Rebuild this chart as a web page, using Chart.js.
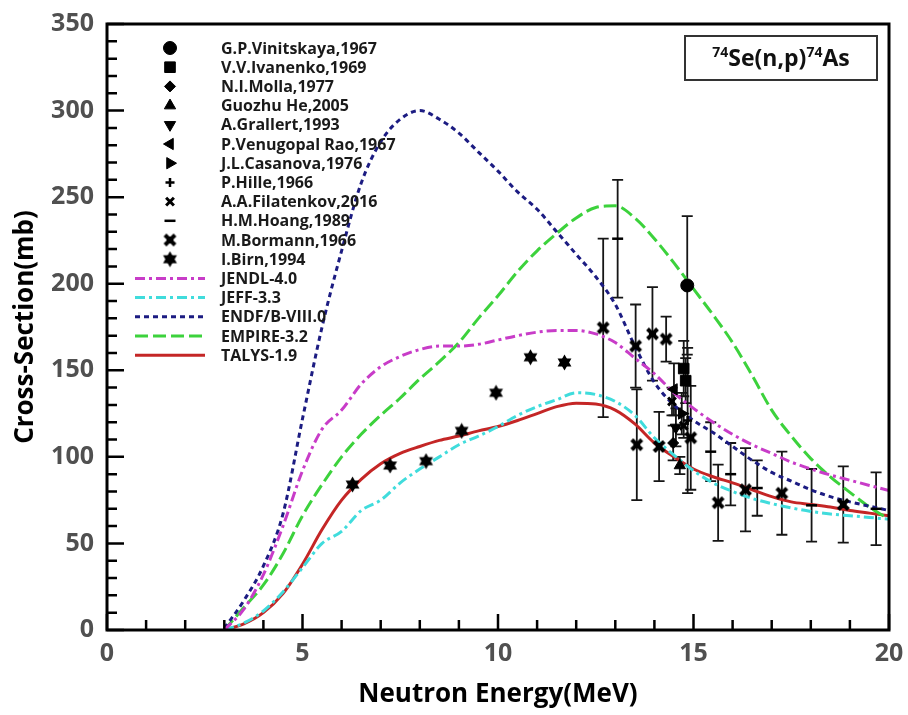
<!DOCTYPE html>
<html>
<head>
<meta charset="utf-8">
<title>74Se(n,p)74As cross section</title>
<script src="https://cdn.jsdelivr.net/npm/chart.js@4.4.1/dist/chart.umd.min.js"></script>
<style>
    html, body { margin: 0; padding: 0; background: #fff; }
    #wrap { width: 908px; height: 715px; position: relative; }
</style>
</head>
<body>
<div id="wrap"><canvas id="xs-chart"></canvas></div>
<script>
// ---- evaluated excitation functions on a common energy grid (MeV) ----
const energyGrid = [3, 3.5, 4, 4.5, 5, 5.5, 6, 6.5, 7, 7.5, 8, 8.5, 9, 9.5, 10, 10.5, 11, 11.5,
    12, 12.5, 13, 13.5, 14, 14.5, 15, 15.5, 16, 16.5, 17, 17.5, 18, 18.5, 19, 19.5, 20];

const jendlXs = [0, 12, 32, 60, 92, 116, 127, 142, 152, 158, 162, 164, 164, 165, 167.5, 170, 172, 173,
    173, 171, 166, 157, 148, 137, 128, 120, 113, 107, 102, 97, 93, 89.5, 86.5, 83.5, 80.5];
const jeffXs = [0, 4, 11, 22, 36, 50, 57, 69, 75, 85, 93, 100, 107, 112, 117.5, 124, 129, 133,
    137, 136, 132, 124, 111, 101, 92, 85, 80, 76, 73, 70.5, 68.5, 67, 66, 65, 64];
const endfXs = [1, 17, 37, 67, 122, 175, 219, 258, 282, 295, 300, 295, 287, 276, 265, 253, 243, 230,
    217, 204, 188, 164, 143, 130, 121, 114, 106, 98, 91, 86, 81, 77, 74, 71.5, 69];
const empireXs = [0, 13, 26, 44, 66, 84, 100, 113, 124, 134, 145, 155, 166, 180, 193, 207, 219, 229,
    238, 244, 245, 238, 226, 212, 197, 182, 166, 147, 127, 112, 99, 88.5, 79.5, 71, 64];
const talysXs = [0, 3.5, 10, 21, 38, 58, 75, 87, 96, 102, 106, 109.5, 112, 115, 117.5, 121, 125, 129,
    131, 130.5, 127, 119, 108, 100, 93, 88.5, 85, 81, 77, 74, 72.5, 71, 69, 67.5, 66];

const evaluationLabels = ['JENDL-4.0', 'JEFF-3.3', 'ENDF/B-VIII.0', 'EMPIRE-3.2', 'TALYS-1.9'];

// ---- measurements: [E (MeV), sigma (mb), d-sigma (mb)] ----
const vinitskaya1967 = [[14.84, 199, 40]];
const ivanenko1969 = [[14.75, 151, 16], [14.8, 144, 13]];
const molla1977 = [[14.48, 108, 10]];
const he2005 = [[14.65, 95, 5]];
const grallert1993 = [[14.55, 117, 11]];
const venugopal1967 = [[14.5, 139, 15]];
const casanova1976 = [[14.7, 125, 12]];
const hille1966 = [[14.85, 121, 42]];
const filatenkov2016 = [[14.45, 132, 8], [14.75, 118, 7]];
const hoang1989 = [[13.06, 226, 34], [15.44, 103, 17], [15.95, 90, 18], [16.63, 82, 16],
    [18.02, 72, 21], [19.67, 70, 21]];
const bormann1966 = [[12.69, 174.5, 51.5], [13.52, 164, 24], [13.55, 107, 32], [13.95, 171, 27],
    [14.3, 168, 13], [14.12, 106, 20], [14.93, 111, 30], [15.63, 73.5, 22], [16.33, 81, 24],
    [17.26, 79, 24], [18.83, 72.5, 22]];
const birn1994 = [[6.28, 84], [7.24, 95], [8.16, 97.5], [9.07, 115], [9.95, 137], [10.83, 157.5],
    [11.7, 154.5]];

const experimentLabels = ['G.P.Vinitskaya,1967', 'V.V.Ivanenko,1969', 'N.I.Molla,1977', 'Guozhu He,2005',
    'A.Grallert,1993', 'P.Venugopal Rao,1967', 'J.L.Casanova,1976', 'P.Hille,1966',
    'A.A.Filatenkov,2016', 'H.M.Hoang,1989', 'M.Bormann,1966', 'I.Birn,1994'];

// ---- hand-drawn marker glyphs ----
function makeMarker(size, draw) {
    const c = document.createElement('canvas');
    c.width = size;
    c.height = size;
    draw(c.getContext('2d'), size / 2);
    return c;
}

const hexStar = makeMarker(17, (g, c) => {
    g.fillStyle = '#000';
    [0, Math.PI].forEach((rot) => {
        g.beginPath();
        for (let i = 0; i < 3; i++) {
            const a = rot - Math.PI / 2 + i * 2 * Math.PI / 3;
            const px = c + 8 * Math.cos(a);
            const py = c + 8 * Math.sin(a);
            if (i) g.lineTo(px, py); else g.moveTo(px, py);
        }
        g.closePath();
        g.fill();
    });
});

const heavyCross = makeMarker(15, (g, c) => {
    g.strokeStyle = '#000';
    g.lineWidth = 4;
    g.beginPath();
    g.moveTo(c - 5, c - 5); g.lineTo(c + 5, c + 5);
    g.moveTo(c + 5, c - 5); g.lineTo(c - 5, c + 5);
    g.stroke();
    g.fillStyle = '#000';
    g.fillRect(c - 3.5, c - 3.5, 7, 7);
});

function expSet(label, rows, style) {
    return Object.assign({
        label,
        type: 'scatter',
        data: rows.map((r) => ({ x: r[0], y: r[1], err: r[2] || 0 })),
        showLine: false,
        pointBackgroundColor: '#000',
        pointBorderColor: '#000',
        pointBorderWidth: 1,
        pointRadius: 6.5,
        pointRotation: 0
    }, style);
}

function evalSet(label, values, color, dash, width) {
    return {
        label,
        type: 'line',
        data: energyGrid.map((e, i) => ({ x: e, y: values[i] })),
        borderColor: color,
        borderWidth: width,
        borderDash: dash,
        pointRadius: 0,
        fill: false,
        cubicInterpolationMode: 'monotone'
    };
}

const datasets = [
    expSet(experimentLabels[0], vinitskaya1967, { pointStyle: 'circle', pointRadius: 6.5 }),
    expSet(experimentLabels[1], ivanenko1969, { pointStyle: 'rect', pointRadius: 7.5 }),
    expSet(experimentLabels[2], molla1977, { pointStyle: 'rectRot', pointRadius: 5.5 }),
    expSet(experimentLabels[3], he2005, { pointStyle: 'triangle', pointRadius: 6.5 }),
    expSet(experimentLabels[4], grallert1993, { pointStyle: 'triangle', pointRotation: 180 }),
    expSet(experimentLabels[5], venugopal1967, { pointStyle: 'triangle', pointRotation: 270 }),
    expSet(experimentLabels[6], casanova1976, { pointStyle: 'triangle', pointRotation: 90 }),
    expSet(experimentLabels[7], hille1966, { pointStyle: 'cross', pointRadius: 4.5, pointBorderWidth: 2.5 }),
    expSet(experimentLabels[8], filatenkov2016, { pointStyle: 'crossRot', pointRadius: 5.5, pointBorderWidth: 3 }),
    expSet(experimentLabels[9], hoang1989, { pointStyle: 'line', pointRadius: 5.5, pointBorderWidth: 2.5 }),
    expSet(experimentLabels[10], bormann1966, { pointStyle: heavyCross }),
    expSet(experimentLabels[11], birn1994, { pointStyle: hexStar }),
    evalSet(evaluationLabels[0], jendlXs, '#c83cc8', [10, 4, 3, 4], 3),
    evalSet(evaluationLabels[1], jeffXs, '#40dcdc', [10, 4, 3, 4], 3),
    evalSet(evaluationLabels[2], endfXs, '#1c1c82', [5, 4], 3),
    evalSet(evaluationLabels[3], empireXs, '#3cd23c', [13, 5], 3),
    evalSet(evaluationLabels[4], talysXs, '#c42626', [], 3)
];

// vertical error bars with caps, behind the curves and markers
const errorBars = {
    id: 'errorBars',
    beforeDatasetsDraw(chart) {
        const { ctx, scales: { x, y } } = chart;
        ctx.save();
        ctx.strokeStyle = '#151515';
        ctx.lineWidth = 1.8;
        chart.data.datasets.forEach((ds) => {
            ds.data.forEach((p) => {
                if (!p.err) return;
                const px = x.getPixelForValue(p.x);
                const top = y.getPixelForValue(p.y + p.err);
                const bot = y.getPixelForValue(p.y - p.err);
                ctx.beginPath();
                ctx.moveTo(px, top); ctx.lineTo(px, bot);
                ctx.moveTo(px - 5.5, top); ctx.lineTo(px + 5.5, top);
                ctx.moveTo(px - 5.5, bot); ctx.lineTo(px + 5.5, bot);
                ctx.stroke();
            });
        });
        ctx.restore();
    }
};

// box around the plot, inward ticks on the left and bottom axes, axis titles
const frame = {
    id: 'frame',
    afterDatasetsDraw(chart) {
        const { ctx, chartArea: a, scales: { x, y } } = chart;
        ctx.save();
        ctx.strokeStyle = '#000';
        ctx.lineWidth = 2.5;
        ctx.beginPath();
        for (let e = x.min; e <= x.max; e += 1) {
            const px = x.getPixelForValue(e);
            ctx.moveTo(px, a.bottom);
            ctx.lineTo(px, a.bottom - (e % 5 ? 10 : 16));
        }
        for (let s = y.min; s <= y.max; s += 10) {
            const py = y.getPixelForValue(s);
            ctx.moveTo(a.left, py);
            ctx.lineTo(a.left + (s % 50 ? 10 : 17), py);
        }
        ctx.stroke();
        ctx.lineWidth = 3;
        ctx.strokeRect(a.left, a.top, a.right - a.left, a.bottom - a.top);

        ctx.fillStyle = '#000';
        ctx.font = 'bold 26px "Open Sans", sans-serif';
        ctx.textAlign = 'center';
        ctx.textBaseline = 'alphabetic';
        ctx.fillText('Neutron Energy(MeV)', (a.left + a.right) / 2, 702);
        ctx.translate(33, (a.top + a.bottom) / 2);
        ctx.rotate(-Math.PI / 2);
        ctx.fillText('Cross-Section(mb)', 0, 0);
        ctx.restore();
    }
};

// legend stacked inside the plot, top-left, plus the reaction label box
const insetLegend = {
    id: 'insetLegend',
    afterDraw(chart) {
        const { ctx, chartArea: a } = chart;
        ctx.save();
        ctx.font = 'bold 16px "Open Sans", sans-serif';
        ctx.textBaseline = 'middle';
        chart.data.datasets.forEach((ds, i) => {
            const yy = a.top + 24 + i * 19.2;
            if (ds.type === 'line') {
                ctx.strokeStyle = ds.borderColor;
                ctx.lineWidth = ds.borderWidth;
                ctx.setLineDash(ds.borderDash);
                ctx.beginPath();
                ctx.moveTo(a.left + 28, yy);
                ctx.lineTo(a.left + 98, yy);
                ctx.stroke();
                ctx.setLineDash([]);
            } else if (ds.pointStyle instanceof HTMLCanvasElement) {
                const c = ds.pointStyle;
                ctx.drawImage(c, a.left + 63 - c.width / 2, yy - c.height / 2);
            } else {
                ctx.fillStyle = ds.pointBackgroundColor;
                ctx.strokeStyle = ds.pointBorderColor;
                ctx.lineWidth = ds.pointBorderWidth;
                Chart.helpers.drawPoint(ctx, {
                    pointStyle: ds.pointStyle,
                    rotation: ds.pointRotation,
                    radius: ds.pointRadius,
                    borderWidth: ds.pointBorderWidth
                }, a.left + 63, yy);
            }
            ctx.fillStyle = '#1a1a1a';
            ctx.fillText(ds.label, a.left + 114, yy + 1);
        });

        const bw = 192, bh = 44;
        const bx = a.right - 12 - bw, by = a.top + 12;
        ctx.lineWidth = 2;
        ctx.strokeStyle = '#333';
        ctx.strokeRect(bx, by, bw, bh);
        const parts = [['74', 14, -9], ['Se(n,p)', 23, 0], ['74', 14, -9], ['As', 23, 0]];
        let total = 0;
        parts.forEach((p) => {
            ctx.font = `bold ${p[1]}px "Open Sans", sans-serif`;
            total += ctx.measureText(p[0]).width;
        });
        let cx = bx + (bw - total) / 2;
        ctx.fillStyle = '#111';
        ctx.textBaseline = 'alphabetic';
        parts.forEach((p) => {
            ctx.font = `bold ${p[1]}px "Open Sans", sans-serif`;
            ctx.fillText(p[0], cx, by + bh / 2 + 8 + p[2]);
            cx += ctx.measureText(p[0]).width;
        });
        ctx.restore();
    }
};

const tickFont = { family: '"Open Sans", sans-serif', size: 25, weight: 'bold' };

new Chart(document.getElementById('xs-chart'), {
    type: 'scatter',
    data: { datasets },
    options: {
        responsive: true,
        maintainAspectRatio: false,
        animation: false,
        layout: { padding: { top: 24, right: 19, left: 0, bottom: 0 } },
        plugins: { legend: { display: false }, tooltip: { enabled: false } },
        scales: {
            x: {
                type: 'linear',
                min: 0,
                max: 20,
                grid: { display: false, drawTicks: false },
                border: { display: false },
                ticks: { stepSize: 5, color: '#505050', font: tickFont, padding: 9 },
                afterFit(scale) {
                    scale.height = 85;
                    scale.paddingLeft = 0;
                    scale.paddingRight = 0;
                }
            },
            y: {
                type: 'linear',
                min: 0,
                max: 350,
                grid: { display: false, drawTicks: false },
                border: { display: false },
                ticks: { stepSize: 50, color: '#505050', font: tickFont, padding: 13 },
                afterFit(scale) {
                    scale.width = 107;
                    scale.paddingTop = 0;
                    scale.paddingBottom = 0;
                }
            }
        }
    },
    plugins: [errorBars, frame, insetLegend]
});
</script>
</body>
</html>
